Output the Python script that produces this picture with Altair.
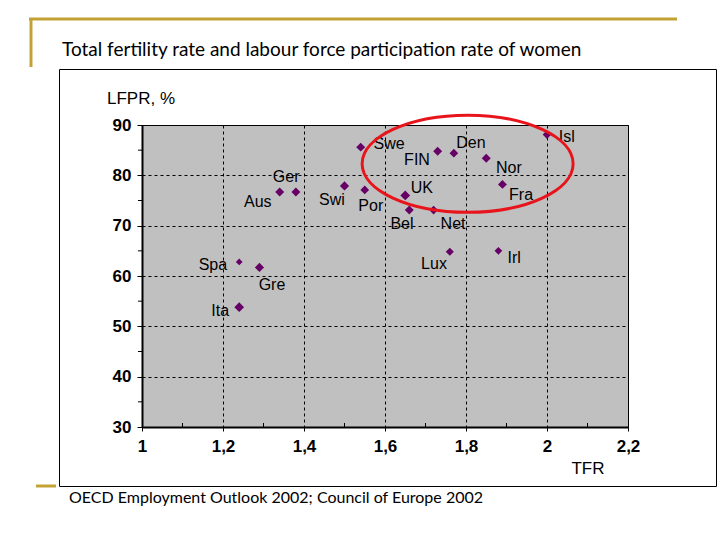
import altair as alt
import pandas as pd

countries = ["Swe", "FIN", "Den", "Nor", "Isl", "Fra", "UK", "Bel", "Net", "Lux", "Irl",
             "Ger", "Aus", "Swi", "Por", "Spa", "Gre", "Ita"]
tfr = [1.54, 1.73, 1.77, 1.85, 2.00, 1.89, 1.65, 1.66, 1.72, 1.76, 1.88,
       1.38, 1.34, 1.50, 1.55, 1.24, 1.29, 1.24]
lfpr = [85.6, 84.8, 84.4, 83.4, 88.1, 78.2, 76.0, 73.1, 73.1, 64.8, 65.0,
        76.7, 76.7, 77.9, 77.1, 62.8, 61.7, 53.8]
label_x = [1.610, 1.679, 1.812, 1.906, 2.049, 1.936, 1.691, 1.642, 1.768, 1.721, 1.919,
           1.356, 1.286, 1.469, 1.565, 1.175, 1.321, 1.193]
label_y = [86.2, 83.0, 86.4, 81.5, 87.6, 76.1, 77.5, 70.3, 70.3, 62.4, 63.6,
           79.7, 74.7, 75.1, 73.9, 62.2, 58.2, 53.0]
marker_size = [80, 80, 75, 80, 75, 80, 95, 80, 75, 65, 60,
               80, 80, 85, 75, 45, 85, 95]

x_major = [1, 1.2, 1.4, 1.6, 1.8, 2, 2.2]
x_minor = [1.1, 1.3, 1.5, 1.7, 1.9, 2.1]
y_major = [30, 40, 50, 60, 70, 80, 90]
y_minor = [35, 45, 55, 65, 75, 85]

ellipse_center_x = [1.804]
ellipse_center_y = [82.3]

title_text = "Total fertility rate and labour force participation rate of women"
source_text = "OECD Employment Outlook 2002; Council of Europe 2002"
x_title = "TFR"
y_title = "LFPR, %"

df = pd.DataFrame({"country": countries, "tfr": tfr, "lfpr": lfpr,
                   "lx": label_x, "ly": label_y, "size": marker_size})
ell = pd.DataFrame({"x": ellipse_center_x, "y": ellipse_center_y})
xm = pd.DataFrame({"x": x_minor})
ym = pd.DataFrame({"y": y_minor})
one = pd.DataFrame({"a": [0]})

W, H = 486, 302
OX, OY = 142, 125  # plot origin on page

xscale = alt.Scale(domain=[1, 2.2], nice=False, zero=False)
yscale = alt.Scale(domain=[30, 90], nice=False, zero=False)

x_axis = alt.Axis(values=x_major, title=None, format="~g",
                  labelExpr="replace(datum.label, '.', ',')",
                  labelFont="Liberation Sans", labelFontWeight="bold", labelFontSize=17,
                  labelColor="#000000", labelPadding=7,
                  domainColor="#000000", domainWidth=2, tickColor="#000000", tickSize=4,
                  grid=True, gridColor="#000000", gridDash=[3, 3], gridWidth=1,
                  labelFlush=False)
y_axis = alt.Axis(values=y_major, title=None,
                  labelFont="Liberation Sans", labelFontWeight="bold", labelFontSize=17,
                  labelColor="#000000", labelPadding=6,
                  domainColor="#000000", domainWidth=2, tickColor="#000000", tickSize=5,
                  grid=True, gridColor="#000000", gridDash=[3, 3], gridWidth=1)

points = alt.Chart(df).mark_point(shape="diamond", filled=True, color="#660066",
                                  opacity=1).encode(
    x=alt.X("tfr:Q", scale=xscale, axis=x_axis),
    y=alt.Y("lfpr:Q", scale=yscale, axis=y_axis),
    size=alt.Size("size:Q", scale=None, legend=None),
)

labels = alt.Chart(df).mark_text(font="Liberation Sans", fontSize=16, color="#000000",
                                 align="center", baseline="middle").encode(
    x=alt.X("lx:Q", scale=xscale),
    y=alt.Y("ly:Q", scale=yscale),
    text="country:N",
)

x_minor_ticks = alt.Chart(xm).mark_rule(color="#000000", strokeWidth=1).encode(
    x=alt.X("x:Q", scale=xscale), y=alt.value(H - 4), y2=alt.value(H + 1))
y_minor_ticks = alt.Chart(ym).mark_rule(color="#000000", strokeWidth=1).encode(
    y=alt.Y("y:Q", scale=yscale), x=alt.value(-4), x2=alt.value(0))

ellipse = alt.Chart(ell).mark_point(
    shape="M -1 0 A 1 0.46 0 1 0 1 0 A 1 0.46 0 1 0 -1 0 Z",
    filled=False, stroke="#E8141B", strokeWidth=3, size=211 * 211, opacity=1,
    clip=False).encode(
    x=alt.X("x:Q", scale=xscale),
    y=alt.Y("y:Q", scale=yscale),
)

def px(v):
    return alt.value(v - OX)

def py(v):
    return alt.value(v - OY)

box = alt.Chart(one).mark_rect(fill=None, stroke="#000000", strokeWidth=1).encode(
    x=px(59.5), x2=px(716.5), y=py(69.5), y2=py(486.5))

gold = "#C3A235"
gold_top = alt.Chart(one).mark_rule(color=gold, strokeWidth=3).encode(
    x=px(29), x2=px(677), y=py(19))
gold_left = alt.Chart(one).mark_rule(color=gold, strokeWidth=3).encode(
    x=px(31), y=py(18), y2=py(67))
gold_bottom = alt.Chart(one).mark_rule(color=gold, strokeWidth=3).encode(
    x=px(36), x2=px(56), y=py(486))

title = alt.Chart(one).mark_text(text=title_text, font="Lato", fontSize=19,
                                 fontWeight="normal", color="#000000",
                                 align="left", baseline="middle").encode(
    x=px(62), y=py(50))
source = alt.Chart(one).mark_text(text=source_text, font="Lato", fontSize=16,
                                  color="#000000", align="left",
                                  baseline="middle").encode(
    x=px(69), y=py(498))
ytitle = alt.Chart(one).mark_text(text=y_title, font="Liberation Sans", fontSize=17,
                                  color="#000000", align="left",
                                  baseline="middle").encode(
    x=px(107), y=py(99))
xtitle = alt.Chart(one).mark_text(text=x_title, font="Liberation Sans", fontSize=17,
                                  color="#000000", align="center",
                                  baseline="middle").encode(
    x=px(588), y=py(469))

chart = alt.layer(points, labels, x_minor_ticks, y_minor_ticks, ellipse, box,
                  gold_top, gold_left, gold_bottom,
                  title, source, ytitle, xtitle).properties(
    width=W, height=H,
    padding={"left": OX, "top": OY, "right": 720 - OX - W, "bottom": 540 - OY - H},
    autosize=alt.AutoSizeParams(type="none"),
    background="#FFFFFF",
).configure_view(fill="#C0C0C0", stroke="#000000", strokeWidth=1)

chart.save("out.html", embed_options={"renderer": "svg", "actions": False})
